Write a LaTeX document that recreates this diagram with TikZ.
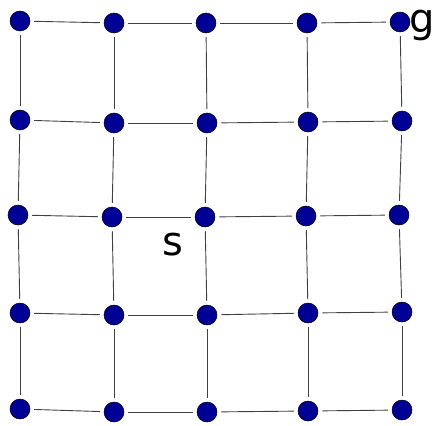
\documentclass[tikz,border=0pt]{standalone}
\usepackage{fontspec}
\setmainfont{DejaVu Sans}
\definecolor{dotblue}{RGB}{0,0,150}
\begin{document}
\begin{tikzpicture}[x=1pt, y=-1pt,
  every node/.style={circle, draw=black, line width=0.5pt, fill=dotblue, minimum size=20pt, inner sep=0pt},
  edge/.style={draw=black!75, line width=0.9pt, shorten <=4pt, shorten >=4pt},
  letter/.style={draw=none, fill=none, rectangle, font=\fontsize{40}{40}\selectfont}]
  \useasboundingbox (0,0) rectangle (435,425);
  % Row 1
  \node (A1) at (20, 21) {};
  \node (B1) at (114, 23) {};
  \node (C1) at (206, 23) {};
  \node (D1) at (307, 23) {};
  \node (E1) at (400, 22) {};
  % Row 2
  \node (A2) at (20, 120) {};
  \node (B2) at (114, 123) {};
  \node (C2) at (207, 123) {};
  \node (D2) at (308, 122) {};
  \node (E2) at (402, 121) {};
  % Row 3
  \node (A3) at (18, 215) {};
  \node (B3) at (112, 217) {};
  \node (C3) at (205, 217) {};
  \node (D3) at (306, 216) {};
  \node (E3) at (399, 215) {};
  % Row 4
  \node (A4) at (20, 313) {};
  \node (B4) at (114, 315) {};
  \node (C4) at (207, 315) {};
  \node (D4) at (308, 313) {};
  \node (E4) at (402, 312) {};
  % Row 5
  \node (A5) at (20, 409) {};
  \node (B5) at (114, 412) {};
  \node (C5) at (207, 412) {};
  \node (D5) at (308, 411) {};
  \node (E5) at (402, 410) {};

  % Labels
  \node[letter, anchor=base west, inner xsep=0pt] (g) at (409, 33) {g};
  \node[letter, anchor=base] (s) at (173, 255) {s};

  % Horizontal edges
  \foreach \r in {1,...,5} {
    \draw[edge] (A\r) -- (B\r);
    \draw[edge] (B\r) -- (C\r);
    \draw[edge] (C\r) -- (D\r);
    \draw[edge] (D\r) -- (E\r);
  }
  % Vertical edges
  \foreach \c in {A,B,C,D,E} {
    \draw[edge] (\c1) -- (\c2);
    \draw[edge] (\c2) -- (\c3);
    \draw[edge] (\c3) -- (\c4);
    \draw[edge] (\c4) -- (\c5);
  }
\end{tikzpicture}
\end{document}
